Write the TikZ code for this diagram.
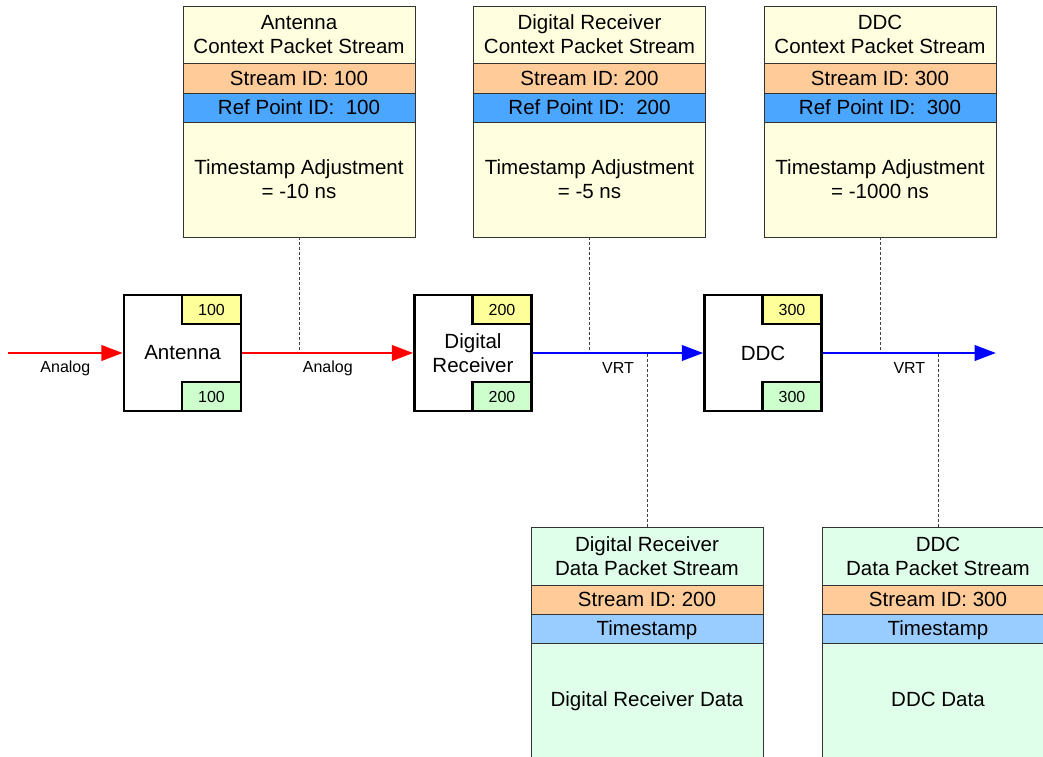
\documentclass[tikz,border=0pt]{standalone}
\usepackage{fontspec}
\setmainfont{Liberation Sans}
\usetikzlibrary{arrows.meta}

\definecolor{ctxfill}{HTML}{FFFFE0}
\definecolor{datafill}{HTML}{E0FFEA}
\definecolor{idfill}{HTML}{FFCC99}
\definecolor{reffill}{HTML}{4AA6FF}
\definecolor{tsfill}{HTML}{99CCFF}
\definecolor{tagyellow}{HTML}{FFFF99}
\definecolor{taggreen}{HTML}{CCFFCC}
\definecolor{analogred}{HTML}{FF0000}
\definecolor{vrtblue}{HTML}{0000FF}

\newcommand\mainsz{\fontsize{15.4}{18}\selectfont}
\newcommand\smallsz{\fontsize{12}{14}\selectfont}

% context packet stream: title, stream id, reference point, body
\newcommand\ctxstream[5]{%
  \node[section, fill=ctxfill, minimum height=42.75pt] (#1-t) at (#2,34.5) {#3};
  \node[section, band, fill=idfill, minimum height=22.5pt] (#1-s) at (#2,78) {Stream ID: #4};
  \node[section, band, fill=reffill, minimum height=21.75pt] (#1-r) at (#2,107.5) {Ref Point ID:\ \ #4};
  \node[section, fill=ctxfill, minimum height=86.25pt] (#1-b) at (#2,179.5) {#5};
}
% data packet stream: title, stream id, timestamp, payload
\newcommand\datastream[5]{%
  \node[section, fill=datafill, minimum height=43.5pt] (#1-t) at (#2,556) {#3};
  \node[section, band, fill=idfill, minimum height=21.75pt] (#1-s) at (#2,599.5) {Stream ID: #4};
  \node[section, band, fill=tsfill, minimum height=21.75pt] (#1-ts) at (#2,628.5) {Timestamp};
  \node[section, fill=datafill, minimum height=97.5pt, anchor=north] (#1-b) at (#1-ts.south) {};
  \node[band, font=\mainsz] (#1-lbl) at (#2,699) {#5};
}
% processing block with input/output reference tags
\newcommand\block[4]{%
  \node[blockbox] (#1) at (#2,353) {#3};
  \node[tag, fill=tagyellow, anchor=north east] (#1-tin) at (#1.north east) {#4};
  \node[tag, fill=taggreen, anchor=south east] (#1-tout) at (#1.south east) {#4};
}

\begin{document}
\begin{tikzpicture}[x=0.75pt, y=-0.75pt,
  section/.style={rectangle, draw=black!80, line width=0.6pt, inner sep=0pt,
    minimum width=174pt, align=center, font=\mainsz},
  band/.style={text height=11pt, text depth=0pt},
  blockbox/.style={rectangle, draw=black, line width=1.9pt, fill=white, inner sep=0pt,
    minimum width=87.75pt, minimum height=87pt, align=center, font=\mainsz},
  tag/.style={rectangle, draw=black, line width=1.9pt, inner sep=0pt,
    minimum width=44.25pt, minimum height=21.75pt, font=\smallsz},
  leader/.style={draw=black!75, line width=0.6pt, dash pattern=on 2.25pt off 1.5pt},
  flow/.style={line width=2.1pt, -{Triangle[length=16pt, width=11.5pt]}},
  analog/.style={flow, draw=analogred, fill=analogred},
  vrt/.style={flow, draw=vrtblue, fill=vrtblue},
  lbl/.style={midway, yshift=-11.25pt, font=\smallsz, text=black}]
\useasboundingbox (0,0) rectangle (1043,757);
\clip (0,0) rectangle (1043,757);

% context packet streams
\ctxstream{ca}{299}{Antenna\\Context Packet Stream}{100}{Timestamp Adjustment\\= -10 ns}
\ctxstream{cr}{589.5}{Digital Receiver\\Context Packet Stream}{200}{Timestamp Adjustment\\= -5 ns}
\ctxstream{cd}{880}{DDC\\Context Packet Stream}{300}{Timestamp Adjustment\\= -1000 ns}

% data packet streams
\datastream{dr}{647}{Digital Receiver\\Data Packet Stream}{200}{Digital Receiver Data}
\datastream{dd}{938}{DDC\\Data Packet Stream}{300}{DDC Data}

% signal chain
\block{ant}{182.5}{Antenna}{100}
\block{rx}{473}{Digital\\Receiver}{200}
\block{ddc}{763}{DDC}{300}

\coordinate (src) at (8,353);
\coordinate (sink) at (996,353);

% leaders from the streams to the signal path
\draw[leader] (ca-b.south) -- (ca-b.south |- ant.east);
\draw[leader] (cr-b.south) -- (cr-b.south |- rx.east);
\draw[leader] (cd-b.south) -- (cd-b.south |- ddc.east);
\draw[leader] (dr-t.north) -- (dr-t.north |- rx.east);
\draw[leader] (dd-t.north) -- (dd-t.north |- ddc.east);

% signal flow
\draw[analog] (src) -- (ant.west) node[lbl] {Analog};
\draw[analog] (ant.east) -- (rx.west) node[lbl] {Analog};
\draw[vrt] (rx.east) -- (ddc.west) node[lbl] {VRT};
\draw[vrt] (ddc.east) -- (sink) node[lbl] {VRT};
\end{tikzpicture}
\end{document}
